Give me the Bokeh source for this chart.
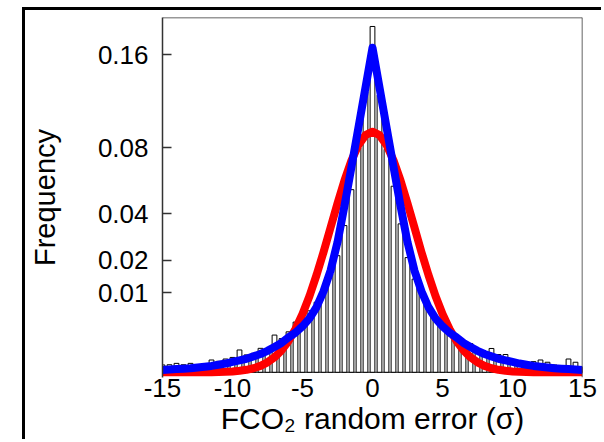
import numpy as np
from bokeh.plotting import figure
from bokeh.models import FixedTicker, CustomJSTickFormatter, Span, Range1d, ColumnDataSource
from bokeh.embed import file_html
from bokeh.resources import INLINE

# ---- data ----
bin_centers = [-15.0, -14.5, -14.0, -13.5, -13.0, -12.5, -12.0, -11.5, -11.0, -10.5,
               -10.0, -9.5, -9.0, -8.5, -8.0, -7.5, -7.0, -6.5, -6.0, -5.5,
               -5.0, -4.5, -4.0, -3.5, -3.0, -2.5, -2.0, -1.5, -1.0, -0.5,
               0.0, 0.5, 1.0, 1.5, 2.0, 2.5, 3.0, 3.5, 4.0, 4.5,
               5.0, 5.5, 6.0, 6.5, 7.0, 7.5, 8.0, 8.5, 9.0, 9.5,
               10.0, 10.5, 11.0, 11.5, 12.0, 12.5, 13.0, 13.5, 14.0, 14.5, 15.0]

bar_freq = [0.000085, 0.00009, 0.000126, 0.00009, 0.000126, 0.0, 0.000085, 0.00024, 0.00019, 0.00028,
            0.00035, 0.00079, 0.00048, 0.00057, 0.00091, 0.00079, 0.0022, 0.0018, 0.0026, 0.0040,
            0.0045, 0.0060, 0.0078, 0.0097, 0.0153, 0.0216, 0.0342, 0.053, 0.080, 0.125,
            0.190, 0.122, 0.079, 0.055, 0.035, 0.0209, 0.0138, 0.0104, 0.0068, 0.0048,
            0.0034, 0.0023, 0.0015, 0.0011, 0.0013, 0.00074, 0.00063, 0.0009, 0.0005, 0.0005,
            0.00021, 0.00016, 0.00018, 0.00018, 0.00024, 0.00016, 0.000085, 0.00004, 0.00028, 0.00016, 0.00004]

gauss_freq = [0.0, 0.0, 0.0, 0.0, 0.0, 0.0, 0.0, 0.0, 0.0000001, 0.0000003,
              0.0000011, 0.0000033, 0.0000095, 0.0000255, 0.000065, 0.000156, 0.000356, 0.000765, 0.00155, 0.00298,
              0.00540, 0.00926, 0.0150, 0.0229, 0.0332, 0.0453, 0.0585, 0.0713, 0.0821, 0.0894,
              0.0920, 0.0894, 0.0821, 0.0713, 0.0585, 0.0453, 0.0332, 0.0229, 0.0150, 0.00926,
              0.00540, 0.00298, 0.00155, 0.000765, 0.000356, 0.000156, 0.000065, 0.0000255, 0.0000095, 0.0000033,
              0.0000011, 0.0000003, 0.0000001, 0.0, 0.0, 0.0, 0.0, 0.0, 0.0, 0.0, 0.0]

laplace_freq = [0.000009, 0.000012, 0.000016, 0.00002, 0.000025, 0.000036, 0.000049, 0.000064, 0.00009, 0.000121,
                0.000169, 0.000225, 0.00029, 0.0004, 0.00053, 0.00073, 0.00102, 0.00137, 0.00194, 0.0025,
                0.00336, 0.00462, 0.00672, 0.0104, 0.0164, 0.0269, 0.0441, 0.0671, 0.0955, 0.1289,
                0.1673, 0.1289, 0.0955, 0.0671, 0.0441, 0.0269, 0.0164, 0.0104, 0.00672, 0.00462,
                0.00336, 0.0025, 0.00194, 0.00137, 0.00102, 0.00073, 0.00053, 0.0004, 0.00029, 0.000225,
                0.000169, 0.000121, 0.00009, 0.000064, 0.000049, 0.000036, 0.000025, 0.00002, 0.000016, 0.000012, 0.000009]

x_ticks = [-15, -10, -5, 0, 5, 10, 15]
y_ticks = [0.01, 0.02, 0.04, 0.08, 0.16]
x_label = "FCO\u2082 random error (\u03c3)"
y_label = "Frequency"

# square-root frequency axis
y_top = 0.2
src = ColumnDataSource(dict(
    x=bin_centers,
    bar=np.sqrt(bar_freq),
    gauss=np.sqrt(gauss_freq),
    lap=np.sqrt(laplace_freq),
))

y_end = float(np.sqrt(y_top))
y_start = y_end - 360.0 / 793.3

p = figure(width=579, height=432,
           x_range=Range1d(-15, 15), y_range=Range1d(y_start, y_end),
           output_backend="svg", toolbar_location=None,
           min_border_left=136, min_border_right=22, min_border_top=7, min_border_bottom=65)
p.styles = {"margin-left": "22px", "margin-top": "7px",
            "border-left": "3px solid black", "border-top": "3px solid black"}
p.grid.visible = False
p.outline_line_color = None
p.background_fill_color = "white"
p.border_fill_color = "white"

FONT = "Liberation Sans"

# y axis
p.yaxis.ticker = FixedTicker(ticks=[float(np.sqrt(v)) for v in y_ticks])
p.yaxis.formatter = CustomJSTickFormatter(code="return (tick*tick).toFixed(2);")
p.yaxis.major_tick_in = 9
p.yaxis.major_tick_out = 0
p.yaxis.minor_tick_line_color = None
p.yaxis.major_tick_line_color = "#333333"
p.yaxis.major_tick_line_width = 1.5
p.yaxis.axis_line_color = "#333333"
p.yaxis.axis_line_width = 1.5
p.yaxis.major_label_standoff = 14
p.yaxis.major_label_text_font = FONT
p.yaxis.major_label_text_font_size = "26px"
p.yaxis.major_label_text_color = "black"
p.yaxis.axis_label = y_label
p.yaxis.axis_label_text_font = FONT
p.yaxis.axis_label_text_font_size = "29px"
p.yaxis.axis_label_text_font_style = "normal"
p.yaxis.axis_label_text_color = "black"
p.yaxis.axis_label_standoff = 34

# x axis
p.xaxis.ticker = FixedTicker(ticks=x_ticks)
p.xaxis.formatter = CustomJSTickFormatter(code="return tick.toFixed(0);")
p.xaxis.axis_line_color = None
p.xaxis.major_tick_in = 0
p.xaxis.major_tick_out = 0
p.xaxis.minor_tick_line_color = None
p.xaxis.major_label_standoff = 1
p.xaxis.major_label_text_font = FONT
p.xaxis.major_label_text_font_size = "26px"
p.xaxis.major_label_text_color = "black"
p.xaxis.axis_label = x_label
p.xaxis.axis_label_text_font = FONT
p.xaxis.axis_label_text_font_size = "30px"
p.xaxis.axis_label_text_font_style = "normal"
p.xaxis.axis_label_text_color = "black"
p.xaxis.axis_label_standoff = 2

# frame pieces (top, right, baseline)
p.add_layout(Span(location=y_end, dimension="width", line_color="#333333", line_width=1.5))
p.add_layout(Span(location=15, dimension="height", line_color="#333333", line_width=1.5))
p.add_layout(Span(location=0, dimension="width", line_color="black", line_width=1, level="underlay"))

# histogram
p.vbar(x="x", top="bar", bottom=0, width=0.34, source=src,
       fill_color="white", line_color="black", line_width=1)

# fitted curves
p.line(x="x", y="gauss", source=src, line_color="#ff0000", line_width=8, line_join="round")
p.line(x="x", y="lap", source=src, line_color="#0000ff", line_width=8, line_join="round")

open("out.html", "w").write(file_html(p, INLINE))
